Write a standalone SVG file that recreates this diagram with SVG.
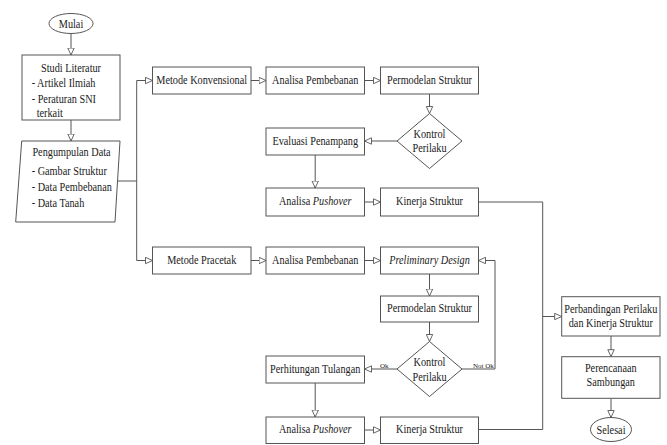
<svg xmlns="http://www.w3.org/2000/svg" width="667" height="445" viewBox="0 0 667 445" font-family="Liberation Serif, serif">
<style>
.s{fill:#fff;stroke:#555;stroke-width:1}
.t{font-family:'Liberation Serif',serif;font-size:12.5px;fill:#1a1a1a;text-anchor:middle}
.l{text-anchor:start}
.i{font-style:italic}
.sm{font-family:'Liberation Serif',serif;font-size:7px;fill:#222}
.c{fill:none;stroke:#555;stroke-width:1;marker-end:url(#a)}
.n{fill:none;stroke:#555;stroke-width:1}
</style>
<defs>
<marker id="a" viewBox="0 0 8 8" refX="7.5" refY="4" markerWidth="8" markerHeight="8" markerUnits="userSpaceOnUse" orient="auto">
<path d="M0.5,0.8 L7.5,4 L0.5,7.2 Z" fill="#fff" stroke="#555" stroke-width="0.9"/>
</marker>
</defs>
<rect width="667" height="445" fill="#fff"/>
<g id="connectors">
<path class="c" d="M71,33.5 V55"/>
<path class="c" d="M71,120 V141"/>
<path class="n" d="M117.5,181 H136.7 M136.7,80.5 V260.5"/>
<path class="c" d="M136.7,80.5 H152.5"/>
<path class="c" d="M136.7,260.5 H152.5"/>
<path class="c" d="M251,80.5 H266"/>
<path class="c" d="M364.5,80.5 H380.5"/>
<path class="c" d="M429.5,94 V113.5"/>
<path class="c" d="M397,141 H364.5"/>
<path class="c" d="M315.2,155 V188"/>
<path class="c" d="M364.5,202 H380.5"/>
<path class="n" d="M478.5,202 H542.7 V429.5 H478.5"/>
<path class="c" d="M542.7,316.5 H561.7"/>
<path class="c" d="M251,260.5 H266"/>
<path class="c" d="M364.5,260.5 H380.5"/>
<path class="c" d="M429.5,274 V296"/>
<path class="c" d="M429.5,322 V341.5"/>
<path class="c" d="M397,369 H364.5"/>
<path class="c" d="M462,369 H495 V260.5 H478.5"/>
<path class="c" d="M315.2,383 V417"/>
<path class="c" d="M364.5,430 H380.5"/>
<path class="c" d="M611,336 V356.7"/>
<path class="c" d="M611,398.3 V417.5"/>
<text class="sm" x="380" y="368">Ok</text>
<text class="sm" x="473" y="368">Not Ok</text>
</g>
<g id="mulai">
<ellipse class="s" cx="71" cy="23.5" rx="22" ry="10"/>
<text class="t" transform="matrix(0.82 0 0 1 71 28)">Mulai</text>
</g>
<g id="studi">
<rect class="s" x="22" y="55" width="98" height="65"/>
<text class="t" transform="matrix(0.82 0 0 1 71 72)">Studi Literatur</text>
<text class="t l" transform="matrix(0.82 0 0 1 31.7 87)">- Artikel Ilmiah</text>
<text class="t l" transform="matrix(0.82 0 0 1 31.7 102.5)">- Peraturan SNI</text>
<text class="t l" transform="matrix(0.82 0 0 1 36.7 116.5)">terkait</text>
</g>
<g id="pengumpulan">
<polygon class="s" points="21.7,141 120,141 115,222 15.7,222"/>
<text class="t" transform="matrix(0.82 0 0 1 71.5 156)">Pengumpulan Data</text>
<text class="t l" transform="matrix(0.82 0 0 1 31.7 175)">- Gambar Struktur</text>
<text class="t l" transform="matrix(0.82 0 0 1 31.7 190.5)">- Data Pembebanan</text>
<text class="t l" transform="matrix(0.82 0 0 1 31.7 207)">- Data Tanah</text>
</g>
<g id="metode-konvensional">
<rect class="s" x="152.5" y="67" width="98.5" height="27"/>
<text class="t" transform="matrix(0.82 0 0 1 201.7 83.5)">Metode Konvensional</text>
</g>
<g id="analisa-pembebanan-1">
<rect class="s" x="266" y="67" width="98.5" height="27"/>
<text class="t" transform="matrix(0.82 0 0 1 315.2 83.5)">Analisa Pembebanan</text>
</g>
<g id="permodelan-1">
<rect class="s" x="380.5" y="67" width="98" height="27"/>
<text class="t" transform="matrix(0.82 0 0 1 429.5 83.5)">Permodelan Struktur</text>
</g>
<g id="kontrol-1">
<polygon class="s" points="429.5,113.5 462,141 429.5,168.5 397,141"/>
<text class="t" transform="matrix(0.82 0 0 1 429.5 137.5)">Kontrol</text>
<text class="t" transform="matrix(0.82 0 0 1 429.5 152)">Perilaku</text>
</g>
<g id="evaluasi">
<rect class="s" x="266" y="128" width="98.5" height="27"/>
<text class="t" transform="matrix(0.82 0 0 1 315.2 144.5)">Evaluasi Penampang</text>
</g>
<g id="pushover-1">
<rect class="s" x="266" y="188" width="98.5" height="28"/>
<text class="t" transform="matrix(0.82 0 0 1 315.2 205)">Analisa <tspan class="i">Pushover</tspan></text>
</g>
<g id="kinerja-1">
<rect class="s" x="380.5" y="188" width="98" height="28"/>
<text class="t" transform="matrix(0.82 0 0 1 429.5 205)">Kinerja Struktur</text>
</g>
<g id="metode-pracetak">
<rect class="s" x="152.5" y="247" width="98.5" height="27"/>
<text class="t" transform="matrix(0.82 0 0 1 201.7 263.5)">Metode Pracetak</text>
</g>
<g id="analisa-pembebanan-2">
<rect class="s" x="266" y="247" width="98.5" height="27"/>
<text class="t" transform="matrix(0.82 0 0 1 315.2 263.5)">Analisa Pembebanan</text>
</g>
<g id="preliminary">
<rect class="s" x="380.5" y="247" width="98" height="27"/>
<text class="t i" transform="matrix(0.82 0 0 1 429.5 263.5)">Preliminary Design</text>
</g>
<g id="permodelan-2">
<rect class="s" x="380.5" y="296" width="98" height="26"/>
<text class="t" transform="matrix(0.82 0 0 1 429.5 312)">Permodelan Struktur</text>
</g>
<g id="kontrol-2">
<polygon class="s" points="429.5,341.5 462,369 429.5,396.5 397,369"/>
<text class="t" transform="matrix(0.82 0 0 1 429.5 366)">Kontrol</text>
<text class="t" transform="matrix(0.82 0 0 1 429.5 381)">Perilaku</text>
</g>
<g id="perhitungan">
<rect class="s" x="266" y="356" width="98.5" height="27"/>
<text class="t" transform="matrix(0.82 0 0 1 315.2 372.5)">Perhitungan Tulangan</text>
</g>
<g id="pushover-2">
<rect class="s" x="266" y="417" width="98.5" height="26.5"/>
<text class="t" transform="matrix(0.82 0 0 1 315.2 433)">Analisa <tspan class="i">Pushover</tspan></text>
</g>
<g id="kinerja-2">
<rect class="s" x="380.5" y="417" width="98" height="26.5"/>
<text class="t" transform="matrix(0.82 0 0 1 429.5 433)">Kinerja Struktur</text>
</g>
<g id="perbandingan">
<rect class="s" x="561.7" y="296.7" width="98.3" height="39.3"/>
<text class="t" transform="matrix(0.82 0 0 1 610.8 313)">Perbandingan Perilaku</text>
<text class="t" transform="matrix(0.82 0 0 1 610.8 326.5)">dan Kinerja Struktur</text>
</g>
<g id="perencanaan">
<rect class="s" x="561.7" y="356.7" width="98.3" height="41.6"/>
<text class="t" transform="matrix(0.82 0 0 1 610.8 371.5)">Perencanaan</text>
<text class="t" transform="matrix(0.82 0 0 1 610.8 385.5)">Sambungan</text>
</g>
<g id="selesai">
<ellipse class="s" cx="611" cy="429.5" rx="20.5" ry="12"/>
<text class="t" transform="matrix(0.82 0 0 1 611 433.5)">Selesai</text>
</g>
</svg>
